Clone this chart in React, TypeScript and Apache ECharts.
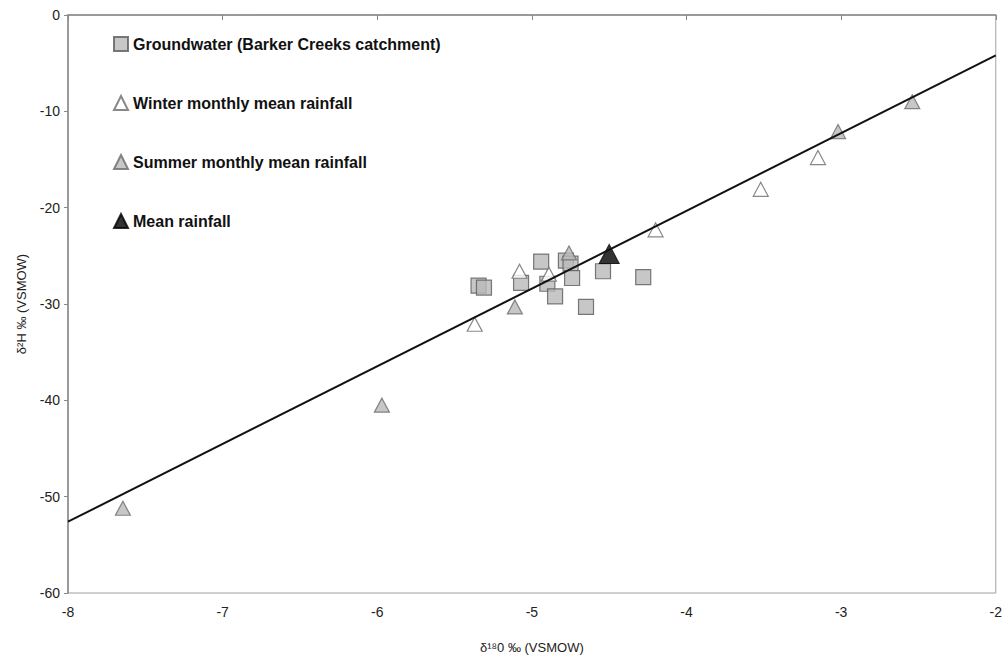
import React, { useEffect, useRef } from "react";
import * as echarts from "echarts";

const groundwaterX = [-5.345, -5.31, -4.94, -4.78, -4.75, -5.07, -4.9, -4.85, -4.74, -4.54, -4.28, -4.65];
const groundwaterY = [-28.1, -28.3, -25.6, -25.5, -25.8, -27.8, -27.9, -29.2, -27.3, -26.6, -27.2, -30.3];

const winterX = [-5.08, -4.89, -5.37, -4.2, -3.52, -3.15];
const winterY = [-26.6, -26.9, -32.1, -22.3, -18.1, -14.8];

const summerX = [-5.11, -4.76, -7.645, -5.97, -3.02, -2.54];
const summerY = [-30.3, -24.7, -51.2, -40.5, -12.1, -9.0];

const meanX = [-4.5];
const meanY = [-24.8];

const lineX = [-8, -2];
const lineY = [-52.6, -4.2];

const seriesNames = [
  "Groundwater (Barker Creeks catchment)",
  "Winter monthly mean rainfall",
  "Summer monthly mean rainfall",
  "Mean rainfall",
];

const xTicks = { min: -8, max: -2, interval: 1 };
const yTicks = { min: -60, max: 0, interval: 10 };

const zip = (xs: number[], ys: number[]) => xs.map((x, i) => [x, ys[i]]);

const FONT = "'Liberation Sans', Arial, sans-serif";

export default function App() {
  const ref = useRef<HTMLDivElement>(null);
  useEffect(() => {
    if (!ref.current) return;
    const chart = echarts.init(ref.current, null, { renderer: "svg" });
    chart.setOption({
      animation: false,
      backgroundColor: "#ffffff",
      grid: {
        left: 68,
        right: 8,
        top: 15,
        bottom: 60,
        show: true,
        borderColor: "#a0a0a0",
        borderWidth: 1,
      },
      legend: {
        data: seriesNames,
        orient: "vertical",
        left: 108,
        top: 31,
        itemGap: 43,
        itemWidth: 14,
        itemHeight: 14,
        textStyle: { fontFamily: FONT, fontSize: 16, fontWeight: "bold", color: "#111" },
      },
      xAxis: {
        type: "value",
        min: xTicks.min,
        max: xTicks.max,
        interval: xTicks.interval,
        name: "δ¹⁸0 ‰ (VSMOW)",
        nameLocation: "middle",
        nameGap: 48,
        nameTextStyle: { fontFamily: FONT, fontSize: 13, color: "#222" },
        axisLine: { lineStyle: { color: "#888", width: 1.5 } },
        axisTick: { show: true, length: 5, lineStyle: { color: "#888" } },
        axisLabel: { fontFamily: FONT, fontSize: 14, color: "#222", margin: 12 },
        splitLine: { show: false },
      },
      yAxis: {
        type: "value",
        min: yTicks.min,
        max: yTicks.max,
        interval: yTicks.interval,
        name: "δ²H ‰ (VSMOW)",
        nameLocation: "middle",
        nameGap: 40,
        nameTextStyle: { fontFamily: FONT, fontSize: 13, color: "#222" },
        axisLine: { lineStyle: { color: "#888", width: 1.5 } },
        axisTick: { show: true, length: 4, lineStyle: { color: "#888" } },
        axisLabel: { fontFamily: FONT, fontSize: 14, color: "#222", margin: 8 },
        splitLine: { show: false },
      },
      series: [
        {
          name: seriesNames[0],
          type: "scatter",
          symbol: "rect",
          symbolSize: 15,
          itemStyle: { color: "#b9b9b9", borderColor: "#5a5a5a", borderWidth: 1.2 },
          data: zip(groundwaterX, groundwaterY),
          z: 2,
        },
        {
          name: seriesNames[1],
          type: "scatter",
          symbol: "triangle",
          symbolSize: [15, 14],
          itemStyle: { color: "#ffffff", borderColor: "#6a6a6a", borderWidth: 1.2 },
          data: zip(winterX, winterY),
          z: 3,
        },
        {
          name: seriesNames[2],
          type: "scatter",
          symbol: "triangle",
          symbolSize: [15, 14],
          itemStyle: { color: "#b9b9b9", borderColor: "#6a6a6a", borderWidth: 1.2 },
          data: zip(summerX, summerY),
          z: 3,
        },
        {
          name: seriesNames[3],
          type: "scatter",
          symbol: "triangle",
          symbolSize: [20, 19],
          itemStyle: { color: "#000000", borderColor: "#000000", borderWidth: 1 },
          data: zip(meanX, meanY),
          z: 4,
        },
        {
          name: "trend",
          type: "line",
          data: zip(lineX, lineY),
          symbol: "none",
          lineStyle: { color: "#111", width: 2 },
          z: 5,
        },
      ],
    });
    return () => chart.dispose();
  }, []);
  return (
    <div
      ref={ref}
      style={{ position: "fixed", left: 0, top: 0, width: 1005, height: 659, background: "#fff" }}
    />
  );
}
